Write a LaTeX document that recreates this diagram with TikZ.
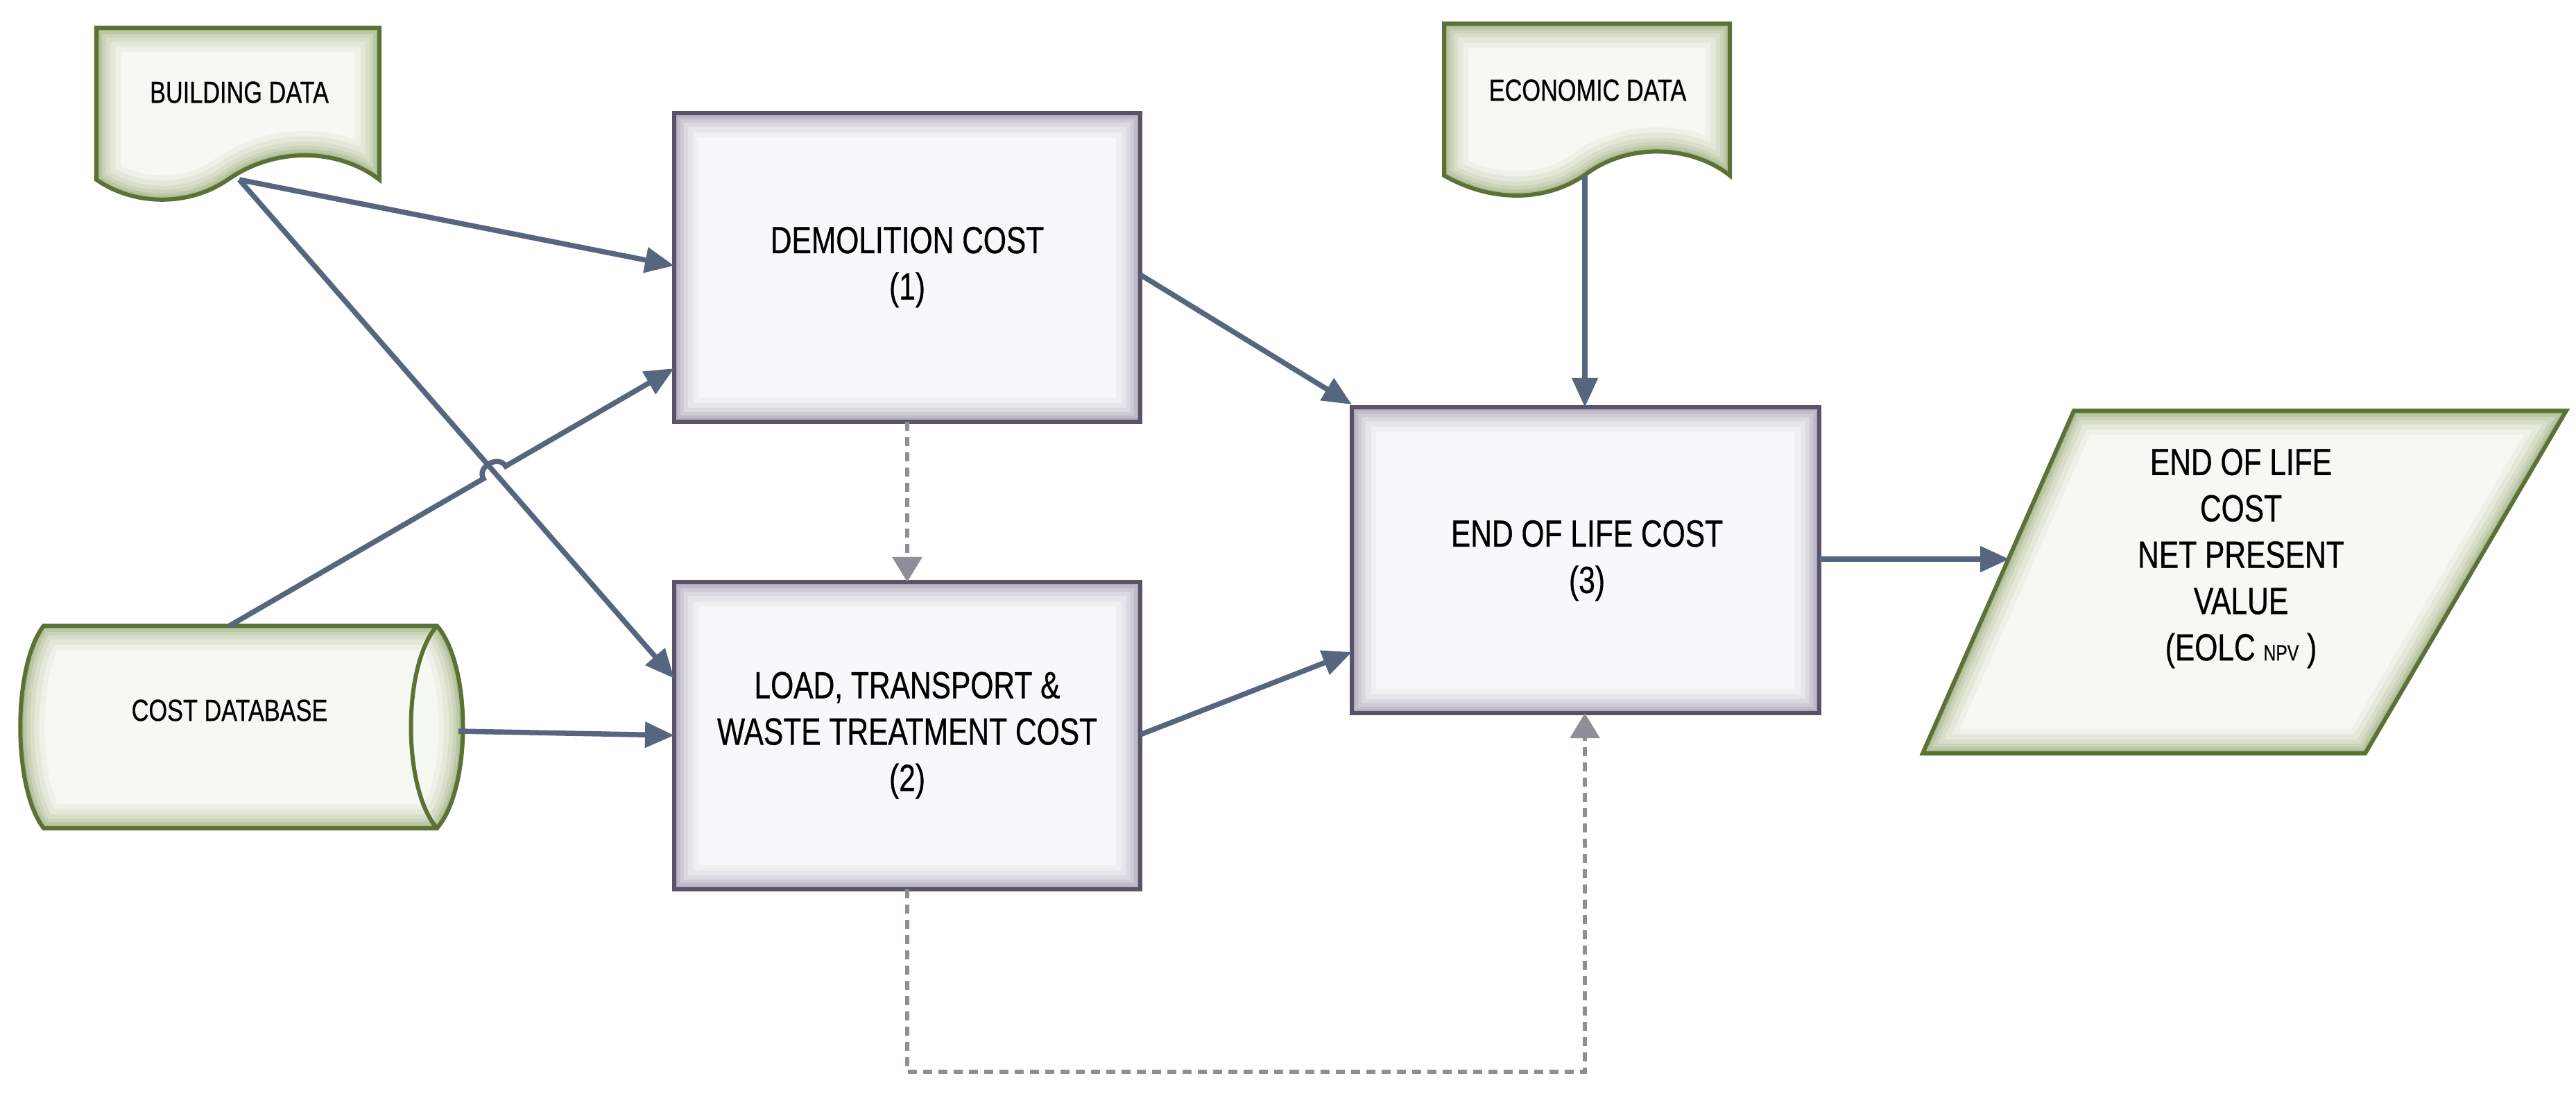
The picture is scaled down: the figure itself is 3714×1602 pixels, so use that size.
\documentclass[tikz,border=0pt]{standalone}
\usepackage{fontspec}
\setmainfont{Liberation Sans}[FakeStretch=0.78,FakeBold=0.6]
\usetikzlibrary{arrows.meta,calc}
\definecolor{arr}{HTML}{56667F}
\definecolor{dsh}{HTML}{8E8E98}
\definecolor{gb}{HTML}{5B7136}
\definecolor{gg}{HTML}{8FA56C}
\definecolor{gf}{HTML}{F6F8F2}
\definecolor{pb}{HTML}{5A5266}
\definecolor{pg}{HTML}{958DA3}
\definecolor{pf}{HTML}{F8F8FB}
\newcommand{\glowshape}[3]{%
  \fill[#3] #1;
  \begin{scope}\clip #1;
    \foreach \w/\o in {70/0.08,55/0.1,40/0.14,28/0.18,18/0.24,10/0.32}{
      \draw[#2,line width=\w*0.01cm,opacity=\o] #1;}
  \end{scope}}
\tikzset{
  arrw/.style={draw=arr,line width=0.075cm,-{Triangle[length=0.42cm,width=0.36cm]}},
  dshw/.style={draw=dsh,line width=0.06cm,dash pattern=on 0.13cm off 0.09cm,-{Triangle[length=0.36cm,width=0.42cm]}},
  big/.style={font=\fontsize{15.5}{19}\selectfont,align=center},
  small/.style={font=\fontsize{12.5}{15}\selectfont}
}
\begin{document}
\begin{tikzpicture}[x=0.01cm,y=-0.01cm]
\useasboundingbox (0,0) rectangle (3714,1602);
\fill[white] (0,0) rectangle (3714,1602);
% building data
\def\bd{(139,40) -- (547,40) -- (547,259) .. controls (490,215) and (400,210) .. (330,258) .. controls (270,300) and (190,295) .. (139,259) -- cycle}
\glowshape{\bd}{gg}{gf}
\draw[gb,line width=0.06cm] \bd;
\node[small] (bdt) at (345,133) {BUILDING DATA};
\coordinate (bdo) at (345,259);
% economic data
\def\ed{(2082,34) -- (2494,34) -- (2494,253) .. controls (2440,210) and (2350,205) .. (2288,250) .. controls (2230,292) and (2150,292) .. (2082,253) -- cycle}
\glowshape{\ed}{gg}{gf}
\draw[gb,line width=0.06cm] \ed;
\node[small] (edt) at (2289,130) {ECONOMIC DATA};
\coordinate (edo) at (2285,253);
% cost database
\def\cd{(63,902) -- (630,902) .. controls (680,960) and (680,1136) .. (630,1194) -- (63,1194) .. controls (18,1136) and (18,960) .. (63,902) -- cycle}
\glowshape{\cd}{gg}{gf}
\draw[gb,line width=0.06cm] \cd;
\draw[gb,line width=0.06cm] (630,902) .. controls (580,960) and (580,1136) .. (630,1194);
\node[small] (cdt) at (331,1024) {COST DATABASE};
\coordinate (cdtop) at (331,902);
\coordinate (cdr) at (661,1054);
% boxes
\def\bA{(972,163) rectangle (1644,608)}
\def\bB{(972,839) rectangle (1644,1282)}
\def\bC{(1949,587) rectangle (2623,1028)}
\foreach \b in {\bA,\bB,\bC}{\glowshape{\b}{pg}{pf}\draw[pb,line width=0.06cm] \b;}
\node[big] (dem) at (1308,385) {DEMOLITION COST\\(1)};
\node[big] (ltw) at (1308,1060) {LOAD, TRANSPORT \&\\WASTE TREATMENT COST\\(2)};
\node[big] (eol) at (2288,808) {END OF LIFE COST\\(3)};
% parallelogram
\def\pp{(2990,592) -- (3700,592) -- (3410,1086) -- (2772,1086) -- cycle}
\glowshape{\pp}{gg}{gf}
\draw[gb,line width=0.06cm] \pp;
\node[big] (npv) at (3231,805) {END OF LIFE\\COST\\NET PRESENT\\VALUE\\(EOLC {\fontsize{9}{10}\selectfont NPV} )};
% arrows
\draw[arrw] (bdo) -- (972,383);
\draw[arrw] (bdo) -- (972,978);
\draw[arrw] (cdtop) -- (697,690) .. controls (687,673) and (719,655) .. (729,672) -- (972,531);
\draw[arrw] (cdr) -- (972,1060);
\draw[arrw] (1644,396) -- (1949,583);
\draw[arrw] (1644,1059) -- (1949,940);
\draw[arrw] (edo) -- (2285,587);
\draw[arrw] (2623,806) -- (2897,806);
\draw[dshw] (1308,608) -- (1308,839);
\draw[dshw] (1308,1282) -- (1308,1545) -- (2285,1545) -- (2285,1028);
\end{tikzpicture}
\end{document}
